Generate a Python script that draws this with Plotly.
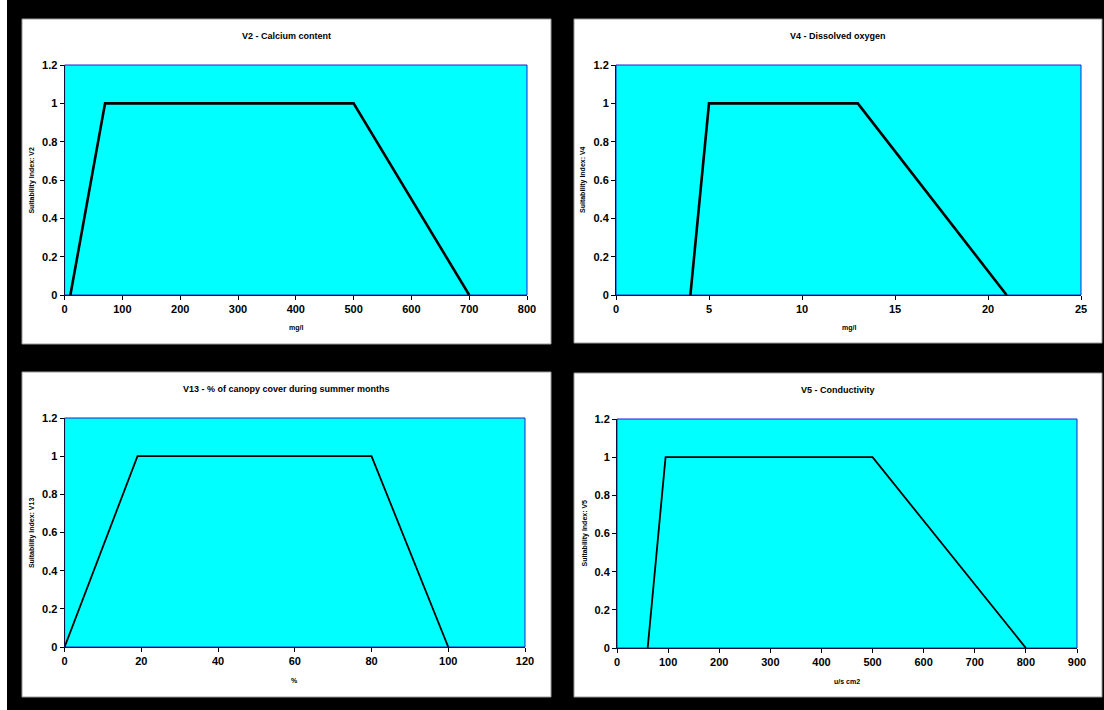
import plotly.graph_objects as go

# ---- data ----
v2_x = [10, 70, 500, 700]
v2_y = [0, 1, 1, 0]
v4_x = [4, 5, 13, 21]
v4_y = [0, 1, 1, 0]
v13_x = [0, 19, 80, 100]
v13_y = [0, 1, 1, 0]
v5_x = [60, 95, 500, 800]
v5_y = [0, 1, 1, 0]

titles = ["V2 - Calcium content", "V4 - Dissolved oxygen",
          "V13 - % of canopy cover during summer months", "V5 - Conductivity"]
x_titles = ["mg/l", "mg/l", "%", "u/s cm2"]
y_titles = ["Suitability Index: V2", "Suitability Index: V4",
            "Suitability Index: V13", "Suitability Index: V5"]
x_ranges = [(0, 800, 100), (0, 25, 5), (0, 120, 20), (0, 900, 100)]
y_range = (0, 1.2, 0.2)

W, H = 1104, 710
def px(x): return x / W
def py(y): return 1 - y / H

plots = [(64.6, 65, 527, 295), (616, 65, 1081, 295),
         (64.6, 418, 525, 647), (617, 419, 1077, 648)]
panels = [(22, 19, 551, 344), (574, 19, 1102, 343),
          (22, 372, 551, 697), (574, 373, 1102, 697)]
widths = [2.6, 2.6, 1.8, 1.8]

series = [(v2_x, v2_y), (v4_x, v4_y), (v13_x, v13_y), (v5_x, v5_y)]

fig = go.Figure()
shapes = [dict(type="rect", xref="paper", yref="paper", x0=0, x1=px(7), y0=0, y1=1,
               fillcolor="white", line=dict(width=0), layer="below")]
annotations = []
FAM = "Liberation Sans, Arial"
tickfont = dict(family=FAM, size=11, color="black", weight="bold")

for i, ((xs, ys), (l, t, r, b), (pl, pt, pr, pb)) in enumerate(zip(series, plots, panels)):
    n = "" if i == 0 else str(i + 1)
    xa, ya = "x" + n, "y" + n
    fig.add_trace(go.Scatter(x=xs, y=ys, mode="lines", xaxis=xa, yaxis=ya,
                             line=dict(color="black", width=widths[i]),
                             showlegend=False, hoverinfo="skip"))
    x0, x1, dx = x_ranges[i]
    fig.layout["xaxis" + n] = dict(
        domain=[px(l), px(r)], range=[x0, x1], tick0=x0, dtick=dx,
        anchor=ya, showgrid=False, zeroline=False, showline=True, automargin=False,
        linecolor="#101040", linewidth=1, ticks="outside", ticklen=4,
        tickcolor="black", tickfont=tickfont, fixedrange=True)
    fig.layout["yaxis" + n] = dict(
        domain=[py(b), py(t)], range=[y_range[0], y_range[1]], tick0=0, dtick=y_range[2],
        anchor=xa, showgrid=False, zeroline=False, showline=True, automargin=False,
        linecolor="#101040", linewidth=1, ticks="outside", ticklen=4,
        tickcolor="black", tickfont=tickfont, fixedrange=True)
    shapes.append(dict(type="rect", xref="paper", yref="paper",
                       x0=px(pl), x1=px(pr), y0=py(pb), y1=py(pt),
                       fillcolor="white", line=dict(color="#9a9a9a", width=1),
                       layer="below"))
    shapes.append(dict(type="rect", xref=xa + " domain", yref=ya + " domain",
                       x0=0, x1=1, y0=0, y1=1, fillcolor="#00FFFF",
                       line=dict(color="#2020d0", width=1), layer="below"))
    cx = (pl + pr) / 2
    annotations.append(dict(text="<b>%s</b>" % titles[i], xref="paper", yref="paper",
                            x=px(cx), y=py(pt + 17), showarrow=False,
                            xanchor="center", yanchor="middle",
                            font=dict(family=FAM, size=9, color="black")))
    annotations.append(dict(text="<b>%s</b>" % x_titles[i], xref="paper", yref="paper",
                            x=px((l + r) / 2), y=py(b + 33), showarrow=False,
                            xanchor="center", yanchor="middle",
                            font=dict(family=FAM, size=7, color="black")))
    annotations.append(dict(text="<b>%s</b>" % y_titles[i], xref="paper", yref="paper",
                            x=px(l - 33), y=py((t + b) / 2), showarrow=False, textangle=-90,
                            xanchor="center", yanchor="middle",
                            font=dict(family=FAM, size=7, color="black")))

fig.update_layout(width=W, height=H, margin=dict(l=0, r=0, t=0, b=0, pad=0, autoexpand=False),
                  paper_bgcolor="black", plot_bgcolor="#00FFFF",
                  shapes=shapes, annotations=annotations,
                  font=dict(family=FAM, color="black"))

post = "document.body.style.margin='0';document.body.style.overflow='hidden';"
fig.write_html("out.html", config={"displayModeBar": False}, post_script=post)
